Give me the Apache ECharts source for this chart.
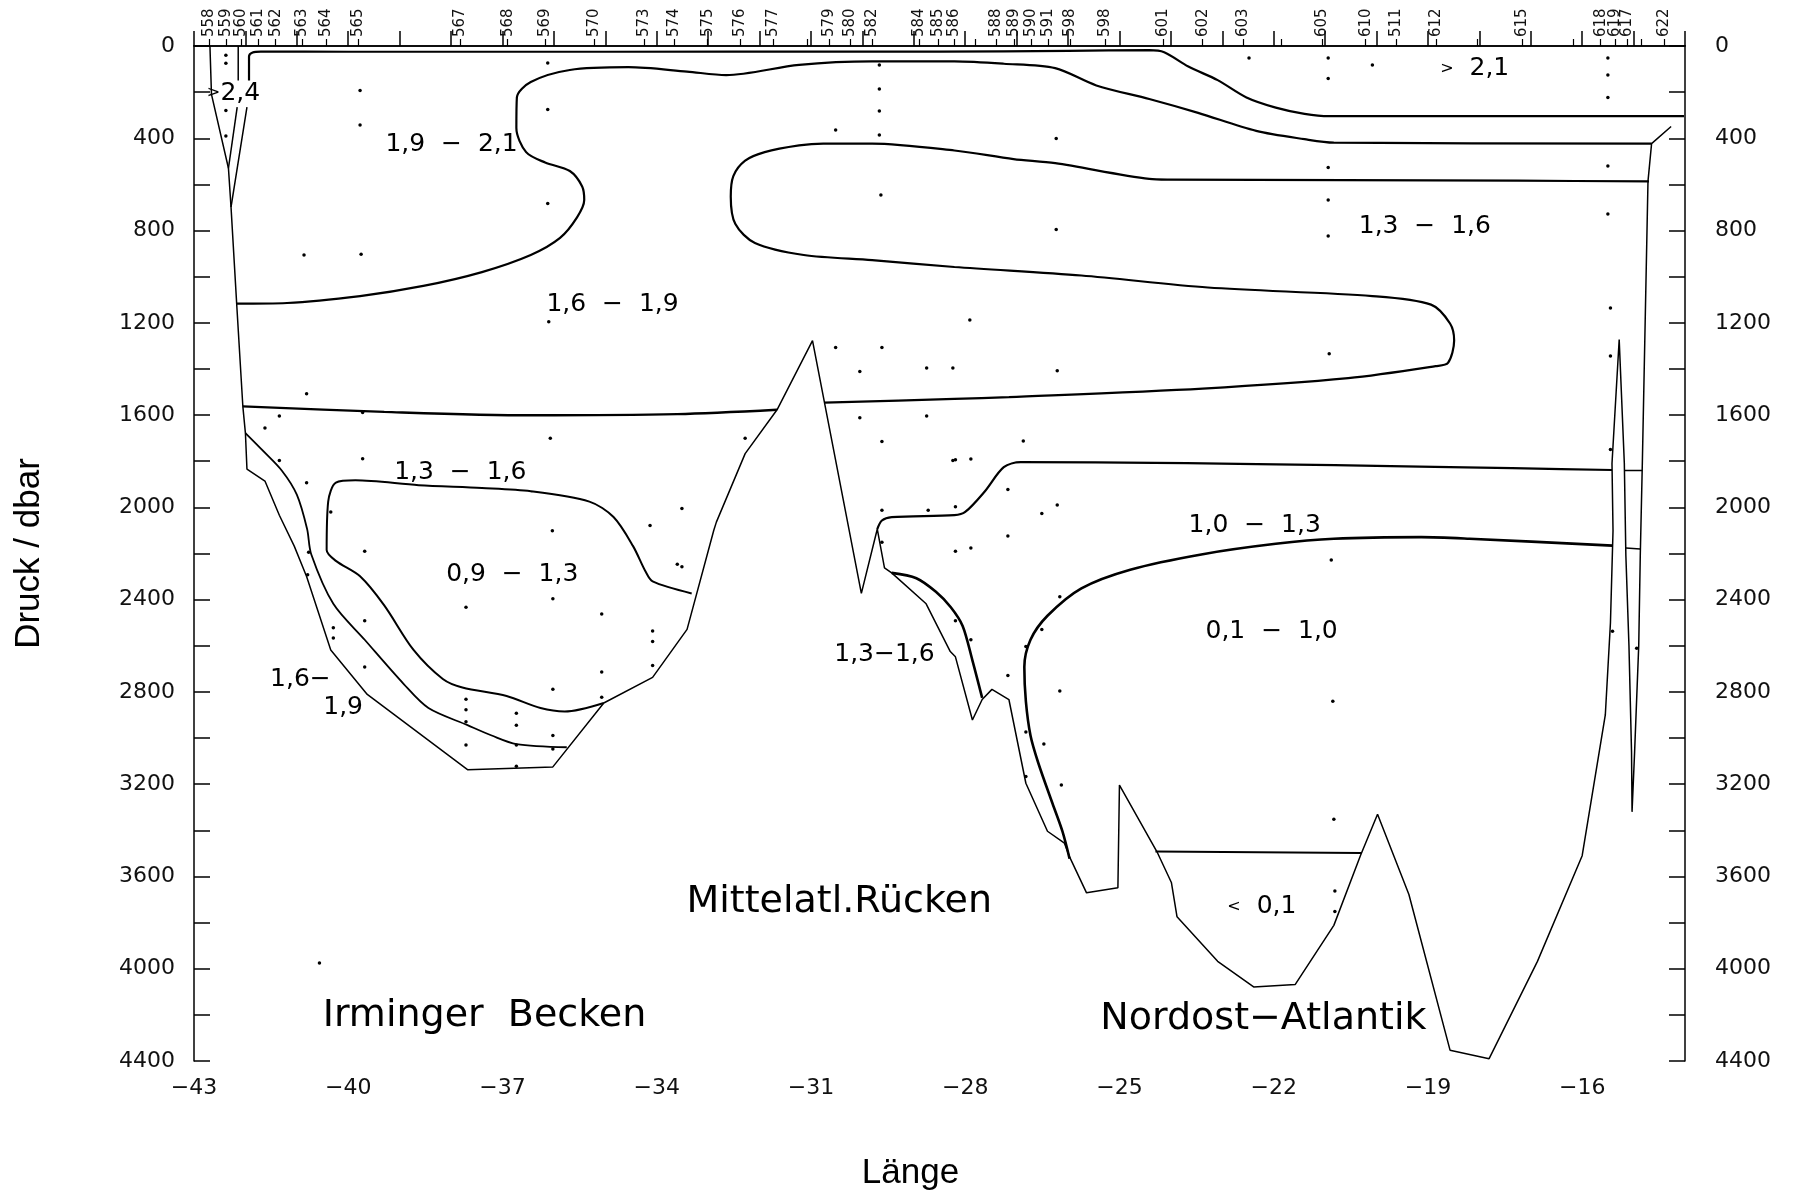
<!DOCTYPE html>
<html>
<head>
<meta charset="utf-8">
<script src="https://cdn.jsdelivr.net/npm/echarts@6/dist/echarts.min.js"></script>
<style>
  html, body { margin: 0; padding: 0; background: #fff; }
  #chart { width: 1809px; height: 1196px; }
</style>
</head>
<body>
<div id="chart"></div>
<script>
// Station numbers along the section and their longitudes (top axis)
const stationNo = ['558','559','560','561','562','563','564','565','567','568','569','570','573','574','575','576','577',
  '579','580','582','584','585','586','588','589','590','591','598','598','601','602','603','605','610','511','612','615',
  '618','619','617','622'];
const stationLon = [-42.70,-42.38,-42.09,-41.76,-41.41,-40.90,-40.43,-39.80,-37.83,-36.90,-36.17,-35.22,-34.25,-33.66,-33.01,
  -32.37,-31.74,-30.64,-30.23,-29.81,-28.89,-28.53,-28.21,-27.40,-27.05,-26.71,-26.39,-25.96,-25.27,-24.15,-23.38,-22.60,
  -21.06,-20.21,-19.62,-18.84,-17.17,-15.64,-15.36,-15.12,-14.40];
const unlabeledStationLon = [-31.07, -27.80, -21.85, -18.04, -16.17, -14.85];

// Isolines (longitude, pressure in dbar)
const contour21 = [[-41.93,150],[-41.93,45],[-41.86,28],[-41.70,24],[-40,25],[-35,25],[-30,24],[-28.5,24],[-26,21],
  [-24.42,18],[-24.13,27],[-23.66,89],[-23.09,148],[-22.53,223],[-21.96,267],[-21.40,294],[-20.92,304],[-14.02,304]];
const contour19 = [[-42.17,1117],[-41.19,1114],[-39.77,1084],[-38.54,1040],[-37.40,980],[-36.45,906],[-35.88,832],
  [-35.55,743],[-35.41,668],[-35.45,609],[-35.69,542],[-36.17,505],[-36.54,460],[-36.73,356],[-36.72,223],[-36.45,156],
  [-35.69,104],[-34.55,92],[-33.41,111],[-32.65,126],[-31.23,82],[-29.81,67],[-28.21,67],[-27.25,77],[-26.25,96],
  [-25.45,171],[-24.42,230],[-23.47,290],[-22.34,368],[-21.40,404],[-20.83,419],[-14.65,423]];
const contour16East = [[-14.70,587],[-17.25,584],[-24.04,579],[-24.42,576],[-26.25,508],[-27.06,490],[-28.21,453],
  [-29.81,423],[-30.76,423],[-31.23,431],[-31.90,460],[-32.28,497],[-32.51,564],[-32.56,653],[-32.47,772],[-32.09,854],
  [-31.14,906],[-29.81,928],[-28.21,958],[-25.74,995],[-23.28,1047],[-20.08,1084],[-18.94,1121],[-18.57,1203],
  [-18.49,1277],[-18.61,1374],[-18.85,1388],[-20.55,1440],[-23.38,1485],[-27.15,1522],[-28.21,1530],[-30.74,1546]];
const contour16West = [[-31.66,1577],[-33.60,1596],[-36.45,1601],[-39.30,1586],[-42.05,1562]];
const contour16Irminger = [[-42.0,1678],[-41.67,1752],[-41.29,1841],[-41.0,1945],[-40.80,2094],[-40.72,2203],
  [-40.29,2418],[-39.68,2574],[-38.92,2766],[-38.44,2870],[-37.68,2944],[-37.21,2989],[-36.73,3026],[-35.75,3040]];
const contour13Irminger = [[-33.32,2373],[-34.08,2321],[-34.22,2277],[-34.46,2168],[-34.84,2042],[-35.31,1975],
  [-36.45,1930],[-37.40,1916],[-38.63,1904],[-39.86,1883],[-40.24,1893],[-40.39,1975],[-40.42,2185],[-40.24,2232],
  [-39.77,2299],[-39.30,2425],[-38.73,2618],[-38.16,2744],[-37.78,2781],[-36.92,2818],[-36.26,2870],[-35.79,2885],
  [-35.03,2848]];
const contour13East = [[-29.71,2094],[-29.62,2057],[-29.43,2042],[-28.21,2034],[-28.0,2020],[-27.62,1931],
  [-27.25,1826],[-26.92,1804],[-15.42,1838]];
const contour13EastGap = [[-15.18,1840],[-14.83,1840]];
const contour13Ridge = [[-29.43,2284],[-28.95,2307],[-28.57,2366],[-28.28,2433],[-28.05,2514],[-27.86,2663],[-27.67,2826]];
const contour10 = [[-25.97,3523],[-26.11,3404],[-26.30,3285],[-26.58,3107],[-26.73,2989],[-26.82,2841],[-26.85,2692],
  [-26.73,2574],[-26.40,2470],[-25.74,2351],[-24.79,2270],[-23.38,2203],[-21.96,2158],[-20.83,2136],[-19.13,2129],
  [-18.19,2136],[-15.41,2166]];
const contour10Gap = [[-15.15,2176],[-14.87,2180]];
const contour01 = [[-24.30,3492],[-20.30,3498]];

// Station-range outlines and sea floor
const outline558 = [[-42.69,0],[-42.66,210],[-42.33,530],[-42.28,698]];
const outline560Upper = [[-42.14,0],[-42.14,150]];
const outline560Lower = [[-42.16,265],[-42.33,530]];
const seaFloor = [[-41.97,265],[-42.28,698],[-42.17,1117],[-42.05,1562],[-42.0,1678],[-41.97,1834],[-41.62,1886],
  [-41.34,2034],[-41.05,2168],[-40.81,2300],[-40.34,2618],[-39.63,2811],[-37.68,3137],[-36.02,3125],[-35.03,2848],
  [-34.08,2737],[-33.41,2529],[-32.89,2099],[-32.84,2064],[-32.28,1767],[-31.66,1577],[-30.97,1277],[-30.02,2373],
  [-29.71,2094],[-29.57,2262],[-29.43,2284],[-28.76,2418],[-28.29,2625],[-28.19,2648],[-27.86,2922],[-27.67,2833],
  [-27.48,2789],[-27.15,2833],[-26.82,3196],[-26.40,3404],[-26.07,3456],[-25.97,3515],[-25.64,3671],[-25.03,3649],
  [-25.00,3204],[-24.27,3493],[-23.99,3626],[-23.88,3775],[-23.09,3968],[-22.39,4079],[-21.58,4068],[-20.83,3812],
  [-20.31,3508],[-19.98,3330],[-19.37,3678],[-18.57,4353],[-17.81,4390],[-16.87,3968],[-16.0,3510],[-15.55,2900],
  [-15.45,2500],[-15.40,2100],[-15.42,1810],[-15.28,1272],[-15.18,1810],[-15.15,2210],[-15.09,2600],[-15.04,3060],
  [-15.03,3320],[-14.98,3060],[-14.90,2600],[-14.87,2210],[-14.83,1810],[-14.72,587],[-14.65,423],[-14.27,349]];

// Sample depths at the stations
const sampleDots = [[-36.12,74],[-36.12,275],[-39.77,193],[-39.77,342],[-36.12,683],[-40.86,906],[-39.75,903],
  [-29.67,82],[-29.67,186],[-29.67,282],[-29.67,386],[-30.52,364],[-29.64,646],[-36.1,1195],[-40.81,1507],
  [-41.34,1604],[-39.72,1589],[-36.07,1700],[-32.28,1700],[-41.62,1656],[-41.34,1797],[-39.72,1789],[-40.81,1893],
  [-40.34,2020],[-36.03,2101],[-34.13,2079],[-33.51,2005],[-33.51,2257],[-39.68,2190],[-30.52,1307],[-29.62,1307],
  [-30.05,1411],[-28.75,1396],[-28.24,1396],[-30.05,1611],[-28.75,1604],[-29.62,1715],[-28.24,1797],[-29.62,2012],
  [-28.72,2012],[-42.38,40],[-42.38,75],[-42.38,280],[-42.38,390],[-40.77,2195],[-40.79,2292],[-37.71,2433],
  [-36.02,2396],[-35.07,2462],[-40.29,2522],[-40.29,2566],[-39.68,2492],[-39.68,2692],[-34.08,2536],[-34.08,2581],
  [-34.08,2685],[-35.07,2714],[-36.02,2789],[-35.07,2823],[-37.71,2832],[-37.71,2877],[-37.71,2929],[-36.73,2892],
  [-36.73,2944],[-36.02,2989],[-37.71,3030],[-36.73,3030],[-36.02,3048],[-36.73,3122],[-40.56,3975],[-29.62,2151],
  [-33.6,2247],[-22.48,52],[-20.94,52],[-20.94,141],[-20.08,82],[-15.5,52],[-15.5,126],[-15.5,223],[-26.23,401],
  [-20.94,527],[-15.5,520],[-20.94,668],[-15.5,728],[-26.23,795],[-20.94,824],[-27.91,1188],[-26.21,1408],
  [-20.92,1334],[-15.45,1136],[-15.45,1344],[-26.87,1712],[-28.19,1794],[-27.89,1790],[-15.45,1749],[-27.17,1923],
  [-28.19,1997],[-26.21,1990],[-26.51,2027],[-27.17,2124],[-28.19,2190],[-27.89,2176],[-20.88,2228],[-26.16,2388],
  [-28.19,2492],[-27.89,2574],[-26.51,2529],[-27.17,2729],[-26.82,2603],[-26.16,2796],[-20.85,2841],[-26.82,2974],
  [-26.47,3026],[-26.82,3167],[-26.13,3204],[-20.83,3352],[-20.81,3663],[-20.81,3752],[-15.41,2537],[-14.94,2611]];

const PLOT_FONT = "'DejaVu Sans', 'Liberation Sans', sans-serif";
const NAME_FONT = "'Liberation Sans', Arial, sans-serif";

// Region annotations: anchor (lon, dbar), text, size class
const annotations = [
  [-42.62, 205, '{s|>}', 'small'],
  [-42.10, 205, '2,4', 'mid'],
  [-37.99, 428, '1,9  −  2,1', 'mid'],
  [-34.86, 1121, '1,6  −  1,9', 'mid'],
  [-37.82, 1849, '1,3  −  1,6', 'mid'],
  [-36.81, 2292, '0,9  −  1,3', 'mid'],
  [-40.93, 2747, '1,6−', 'mid'],
  [-40.10, 2866, '1,9', 'mid'],
  [-29.57, 2636, '1,3−1,6', 'mid'],
  [-22.04, 2536, '0,1  −  1,0', 'mid'],
  [-22.37, 2079, '1,0  −  1,3', 'mid'],
  [-19.06, 783, '1,3  −  1,6', 'mid'],
  [-18.09, 97, '{s|>}  {n|2,1}', 'mid'],
  [-22.23, 3730, '{s|<}  {n|0,1}', 'mid'],
  [-30.45, 3710, 'Mittelatl.Rücken', 'big'],
  [-37.35, 4205, 'Irminger  Becken', 'big'],
  [-22.20, 4220, 'Nordost−Atlantik', 'big']
];

const sizeOf = { small: 17, mid: 25, big: 38 };

function isoline(data, width) {
  return {
    type: 'line', data: data, xAxisIndex: 0, yAxisIndex: 0,
    showSymbol: false, symbol: 'none', smooth: 0.3, silent: true,
    lineStyle: { color: '#000', width: width }, z: 3
  };
}
function outline(data) {
  return {
    type: 'line', data: data, xAxisIndex: 0, yAxisIndex: 0,
    showSymbol: false, symbol: 'none', smooth: false, silent: true,
    lineStyle: { color: '#000', width: 1.5 }, z: 3
  };
}

const series = [
  isoline(contour21, 2.2), isoline(contour19, 2.2), isoline(contour16East, 2.2), isoline(contour16West, 2.4),
  isoline(contour16Irminger, 1.8), isoline(contour13Irminger, 2), isoline(contour13East, 2.2),
  outline(contour13EastGap), isoline(contour13Ridge, 2.6), isoline(contour10, 2.6), outline(contour10Gap),
  isoline(contour01, 2),
  outline(outline558), outline(outline560Upper), outline(outline560Lower), outline(seaFloor),
  {
    type: 'scatter', data: sampleDots, xAxisIndex: 0, yAxisIndex: 0, symbolSize: 3.5, silent: true,
    itemStyle: { color: '#000', opacity: 1 }, z: 4
  },
  {
    type: 'scatter', xAxisIndex: 0, yAxisIndex: 0, symbolSize: 0, silent: true, z: 5,
    itemStyle: { opacity: 1 },
    data: annotations.map(a => ({
      value: [a[0], a[1]],
      label: {
        show: true, position: 'inside', formatter: a[2], color: '#000', opacity: 1,
        fontFamily: PLOT_FONT, fontWeight: 'normal', fontSize: sizeOf[a[3]],
        rich: {
          s: { fontFamily: PLOT_FONT, fontSize: 16, color: '#000' },
          n: { fontFamily: PLOT_FONT, fontSize: 25, color: '#000' }
        }
      }
    }))
  }
];

const tickFont = { fontFamily: PLOT_FONT, fontWeight: 'normal', fontSize: 22, color: '#111' };
const axisLineStyle = { show: true, lineStyle: { color: '#000', width: 1.5 } };

const option = {
  backgroundColor: '#fff',
  animation: false,
  grid: { left: 194, right: 124, top: 46, bottom: 130, containLabel: false },
  xAxis: [
    {
      type: 'value', position: 'bottom', min: -43, max: -14, interval: 1,
      name: 'Länge', nameLocation: 'middle', nameGap: 95,
      nameTextStyle: { fontFamily: NAME_FONT, fontSize: 35, color: '#000', padding: [0, 58, 0, 0] },
      axisLine: axisLineStyle,
      axisTick: { inside: true, length: 15, lineStyle: { color: '#000', width: 1.5 } },
      axisLabel: Object.assign({}, tickFont, {
        margin: 16,
        formatter: v => ((Math.round(v) + 43) % 3 === 0 && v <= -16) ? '−' + Math.abs(Math.round(v)) : ''
      }),
      splitLine: { show: false }
    },
    {
      type: 'value', position: 'top', min: -43, max: -14,
      axisLine: axisLineStyle,
      axisTick: { customValues: stationLon.concat(unlabeledStationLon), inside: false, length: 7,
                  lineStyle: { color: '#000', width: 1.2 } },
      axisLabel: {
        customValues: stationLon, rotate: 90, margin: 9,
        fontFamily: PLOT_FONT, fontWeight: 'normal', fontSize: 15, color: '#111',
        formatter: v => {
          let best = 0, d = Infinity;
          stationLon.forEach((s, i) => { const e = Math.abs(s - v); if (e < d) { d = e; best = i; } });
          return stationNo[best];
        }
      },
      splitLine: { show: false }
    }
  ],
  yAxis: [
    {
      type: 'value', position: 'left', inverse: true, min: 0, max: 4400, interval: 200,
      name: 'Druck / dbar', nameLocation: 'middle', nameGap: 147,
      nameTextStyle: { fontFamily: NAME_FONT, fontSize: 35, color: '#000' },
      axisLine: axisLineStyle,
      axisTick: { inside: true, length: 16, lineStyle: { color: '#000', width: 1.5 } },
      axisLabel: Object.assign({}, tickFont, { margin: 19, formatter: v => (v % 400 === 0 ? String(v) : '') }),
      splitLine: { show: false }
    },
    {
      type: 'value', position: 'right', inverse: true, min: 0, max: 4400, interval: 200,
      axisLine: axisLineStyle,
      axisTick: { inside: true, length: 16, lineStyle: { color: '#000', width: 1.5 } },
      axisLabel: Object.assign({}, tickFont, { margin: 30, formatter: v => (v % 400 === 0 ? String(v) : '') }),
      splitLine: { show: false }
    }
  ],
  series: series
};

const chart = echarts.init(document.getElementById('chart'), null, { renderer: 'canvas' });
chart.setOption(option);
</script>
</body>
</html>
